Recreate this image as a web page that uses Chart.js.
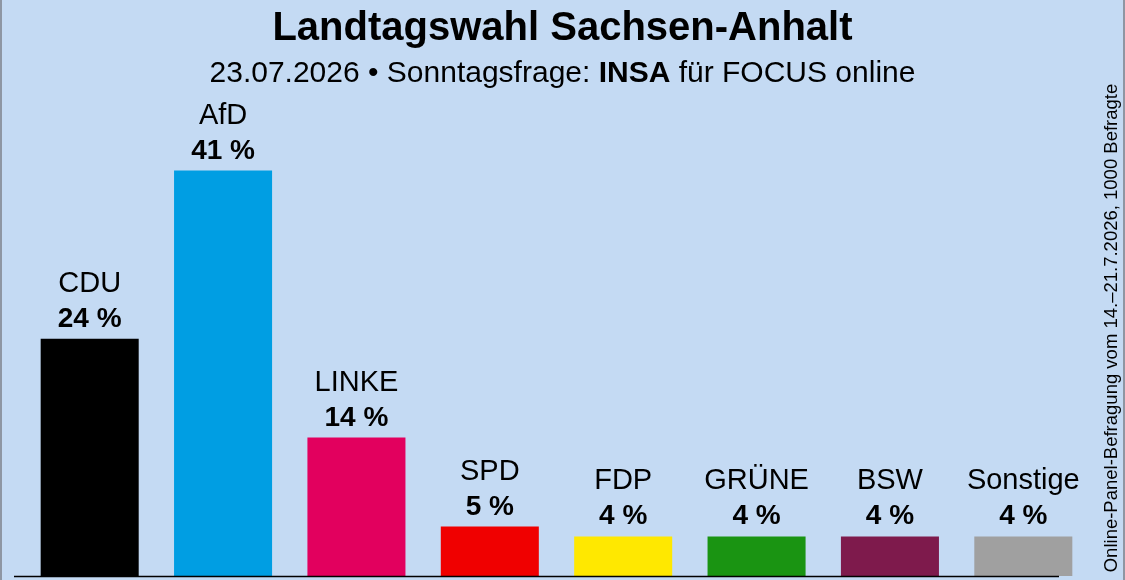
<!DOCTYPE html>
<html>
<head>
<meta charset="utf-8">
<script src="https://cdn.jsdelivr.net/npm/chart.js@4/dist/chart.umd.min.js"></script>
<style>
  html, body { margin: 0; padding: 0; }
  body { width: 1125px; height: 580px; background: #c4daf3; position: relative; overflow: hidden;
         font-family: "Liberation Sans", Arial, sans-serif; }
  #frame { position: absolute; left: 0; top: 0; width: 1121px; height: 580px;
           border-left: 2px solid #8e96a3; border-right: 2px solid #8e96a3; }
  #title { position: absolute; left: 0; width: 1125px; top: 4px; text-align: center;
           font-size: 40px; font-weight: bold; color: #000; }
  #sub { position: absolute; left: 0; width: 1125px; top: 55px; text-align: center;
         font-size: 30px; color: #000; }
  #note { position: absolute; left: 1111px; top: 328px; transform: translate(-50%, -50%) rotate(-90deg);
          white-space: nowrap; font-size: 18.5px; color: #000; }
  #wrap { position: absolute; left: 0; top: 0; width: 1125px; height: 580px; }
</style>
</head>
<body>
<div id="wrap"><canvas id="myChart" width="1125" height="580"></canvas></div>
<div id="frame"></div>
<div id="title">Landtagswahl Sachsen-Anhalt</div>
<div id="sub">23.07.2026 • Sonntagsfrage: <b>INSA</b> für FOCUS online</div>
<div id="note">Online-Panel-Befragung vom 14.–21.7.2026, 1000 Befragte</div>
<script>
// Umfragewerte (Prozent)
var parties = ['CDU', 'AfD', 'LINKE', 'SPD', 'FDP', 'GRÜNE', 'BSW', 'Sonstige'];
var values = [24, 41, 14, 5, 4, 4, 4, 4];
var partyColors = ['#000000', '#009ee3', '#e2005e', '#f00000', '#ffe800', '#1a9412', '#7e1a4c', '#a0a0a0'];

// Beschriftung über den Balken + Grundlinie
var barLabels = {
    id: 'barLabels',
    afterDatasetsDraw: function (chart) {
        var ctx = chart.ctx;
        var meta = chart.getDatasetMeta(0);
        var yZero = chart.scales.y.getPixelForValue(0);
        ctx.save();
        ctx.strokeStyle = '#000';
        ctx.lineWidth = 1.5;
        ctx.beginPath();
        ctx.moveTo(chart.chartArea.left - 9, yZero + 0.5);
        ctx.lineTo(chart.chartArea.right - 31, yZero + 0.5);
        ctx.stroke();

        ctx.fillStyle = '#000';
        ctx.textAlign = 'center';
        ctx.textBaseline = 'alphabetic';
        meta.data.forEach(function (bar, i) {
            ctx.font = '29px "Liberation Sans", Arial, sans-serif';
            ctx.fillText(parties[i], bar.x, bar.y - 47);
            ctx.font = 'bold 28px "Liberation Sans", Arial, sans-serif';
            ctx.fillText(values[i] + ' %', bar.x, bar.y - 12);
        });
        ctx.restore();
    }
};

var ctx = document.getElementById('myChart').getContext('2d');
var myChart = new Chart(ctx, {
    type: 'bar',
    data: {
        labels: parties,
        datasets: [{
            label: 'Sonntagsfrage',
            data: values,
            backgroundColor: partyColors,
            borderWidth: 0,
            barPercentage: 0.735,
            categoryPercentage: 1.0,
        }]
    },
    options: {
        responsive: false,
        animation: false,
        layout: { padding: { left: 23, right: 35, top: 131, bottom: 4 } },
        plugins: { legend: { display: false }, tooltip: { enabled: false } },
        scales: {
            x: { display: false },
            y: { display: false, min: 0, max: 45 }
        }
    },
    plugins: [barLabels]
});
</script>
</body>
</html>
